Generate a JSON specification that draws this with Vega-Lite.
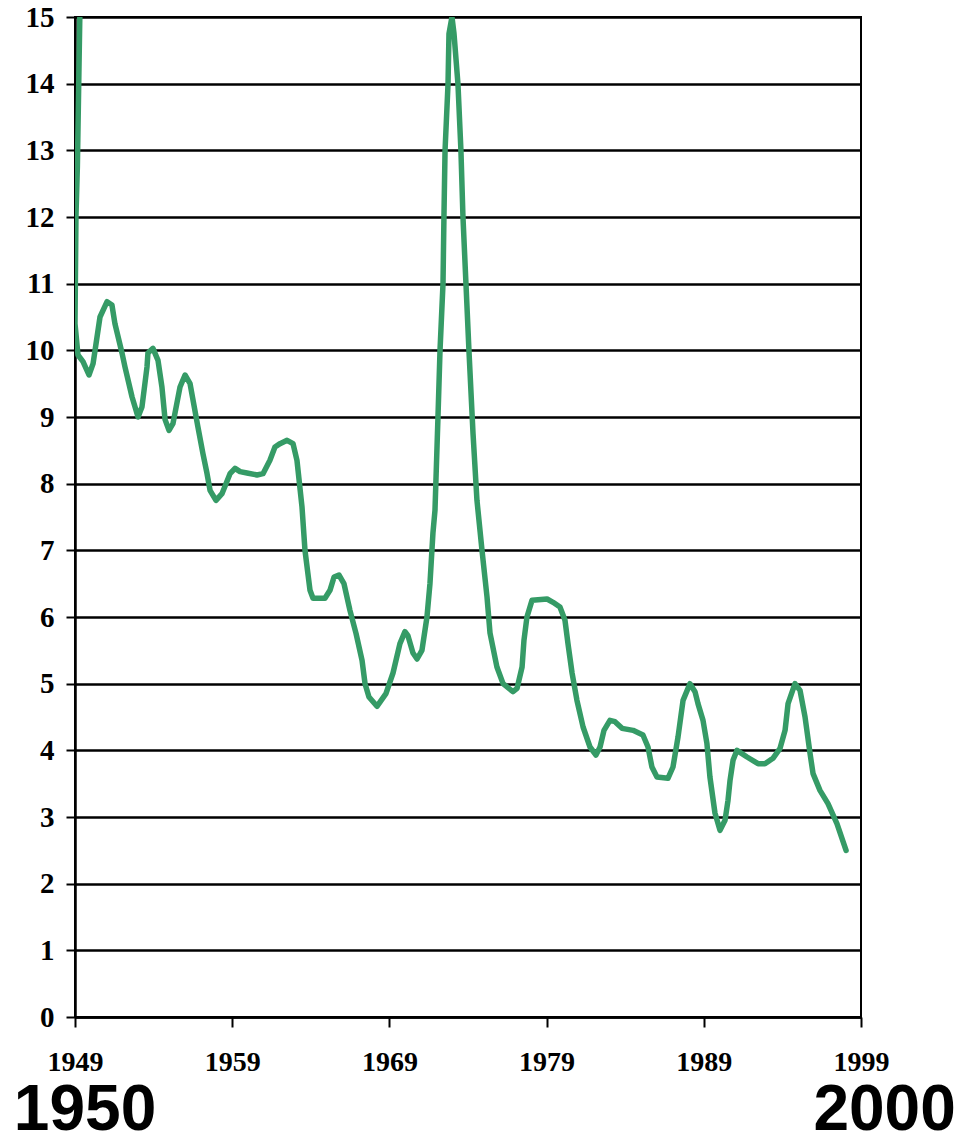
{
  "$schema": "https://vega.github.io/schema/vega-lite/v6.json",
  "width": 786,
  "height": 1000,
  "autosize": {"type": "none"},
  "padding": {"left": 75, "top": 17, "right": 98, "bottom": 120},
  "background": "white",
  "config": {
    "view": {"stroke": "black", "strokeWidth": 2},
    "axis": {"labelFont": "Liberation Serif", "labelFontWeight": "bold", "labelColor": "black", "domainColor": "black", "tickColor": "black", "gridColor": "black", "labelFlush": false, "labelOverlap": false}
  },
  "datasets": {
    "series": [
      {"i": 1, "year": 1949.32, "v": 15.2},
      {"i": 2, "year": 1949.15, "v": 12.75},
      {"i": 3, "year": 1949.06, "v": 12.0},
      {"i": 4, "year": 1949.0, "v": 10.4},
      {"i": 5, "year": 1949.19, "v": 9.93},
      {"i": 6, "year": 1949.51, "v": 9.83},
      {"i": 7, "year": 1949.89, "v": 9.63},
      {"i": 8, "year": 1950.15, "v": 9.8},
      {"i": 9, "year": 1950.59, "v": 10.5},
      {"i": 10, "year": 1951.04, "v": 10.73},
      {"i": 11, "year": 1951.35, "v": 10.68},
      {"i": 12, "year": 1951.54, "v": 10.4},
      {"i": 13, "year": 1951.99, "v": 9.96},
      {"i": 14, "year": 1952.18, "v": 9.75},
      {"i": 15, "year": 1952.63, "v": 9.3},
      {"i": 16, "year": 1953.01, "v": 9.0},
      {"i": 17, "year": 1953.26, "v": 9.15},
      {"i": 18, "year": 1953.58, "v": 9.75},
      {"i": 19, "year": 1953.64, "v": 9.96},
      {"i": 20, "year": 1953.96, "v": 10.03},
      {"i": 21, "year": 1954.28, "v": 9.85},
      {"i": 22, "year": 1954.53, "v": 9.45},
      {"i": 23, "year": 1954.73, "v": 8.96},
      {"i": 24, "year": 1954.98, "v": 8.8},
      {"i": 25, "year": 1955.23, "v": 8.9},
      {"i": 26, "year": 1955.68, "v": 9.45},
      {"i": 27, "year": 1956.0, "v": 9.63},
      {"i": 28, "year": 1956.32, "v": 9.5},
      {"i": 29, "year": 1956.51, "v": 9.25},
      {"i": 30, "year": 1956.82, "v": 8.85},
      {"i": 31, "year": 1957.14, "v": 8.45},
      {"i": 32, "year": 1957.4, "v": 8.15},
      {"i": 33, "year": 1957.59, "v": 7.9},
      {"i": 34, "year": 1957.97, "v": 7.75},
      {"i": 35, "year": 1958.35, "v": 7.85},
      {"i": 36, "year": 1958.86, "v": 8.15},
      {"i": 37, "year": 1959.18, "v": 8.23},
      {"i": 38, "year": 1959.5, "v": 8.18},
      {"i": 39, "year": 1959.94, "v": 8.16},
      {"i": 40, "year": 1960.58, "v": 8.13},
      {"i": 41, "year": 1960.96, "v": 8.15},
      {"i": 42, "year": 1961.4, "v": 8.35},
      {"i": 43, "year": 1961.72, "v": 8.55},
      {"i": 44, "year": 1962.04, "v": 8.6},
      {"i": 45, "year": 1962.49, "v": 8.65},
      {"i": 46, "year": 1962.87, "v": 8.6},
      {"i": 47, "year": 1963.12, "v": 8.35},
      {"i": 48, "year": 1963.44, "v": 7.65},
      {"i": 49, "year": 1963.63, "v": 7.0},
      {"i": 50, "year": 1963.95, "v": 6.4},
      {"i": 51, "year": 1964.14, "v": 6.28},
      {"i": 52, "year": 1964.9, "v": 6.28},
      {"i": 53, "year": 1965.22, "v": 6.4},
      {"i": 54, "year": 1965.48, "v": 6.6},
      {"i": 55, "year": 1965.79, "v": 6.63},
      {"i": 56, "year": 1966.11, "v": 6.5},
      {"i": 57, "year": 1966.49, "v": 6.1},
      {"i": 58, "year": 1966.88, "v": 5.75},
      {"i": 59, "year": 1967.26, "v": 5.35},
      {"i": 60, "year": 1967.45, "v": 5.0},
      {"i": 61, "year": 1967.7, "v": 4.8},
      {"i": 62, "year": 1968.21, "v": 4.66},
      {"i": 63, "year": 1968.78, "v": 4.85},
      {"i": 64, "year": 1969.23, "v": 5.16},
      {"i": 65, "year": 1969.67, "v": 5.6},
      {"i": 66, "year": 1969.99, "v": 5.78},
      {"i": 67, "year": 1970.18, "v": 5.72},
      {"i": 68, "year": 1970.5, "v": 5.46},
      {"i": 69, "year": 1970.76, "v": 5.37},
      {"i": 70, "year": 1971.07, "v": 5.5},
      {"i": 71, "year": 1971.39, "v": 6.0},
      {"i": 72, "year": 1971.58, "v": 6.5},
      {"i": 73, "year": 1971.77, "v": 7.26},
      {"i": 74, "year": 1971.9, "v": 7.6},
      {"i": 75, "year": 1972.09, "v": 9.0},
      {"i": 76, "year": 1972.22, "v": 10.0},
      {"i": 77, "year": 1972.41, "v": 11.0},
      {"i": 78, "year": 1972.47, "v": 12.0},
      {"i": 79, "year": 1972.54, "v": 13.0},
      {"i": 80, "year": 1972.73, "v": 14.0},
      {"i": 81, "year": 1972.79, "v": 14.75},
      {"i": 82, "year": 1972.98, "v": 15.0},
      {"i": 83, "year": 1973.11, "v": 14.75},
      {"i": 84, "year": 1973.36, "v": 14.0},
      {"i": 85, "year": 1973.55, "v": 13.0},
      {"i": 86, "year": 1973.68, "v": 12.0},
      {"i": 87, "year": 1973.87, "v": 11.0},
      {"i": 88, "year": 1974.06, "v": 10.0},
      {"i": 89, "year": 1974.32, "v": 8.75},
      {"i": 90, "year": 1974.57, "v": 7.75},
      {"i": 91, "year": 1974.89, "v": 7.0},
      {"i": 92, "year": 1975.21, "v": 6.3},
      {"i": 93, "year": 1975.4, "v": 5.76},
      {"i": 94, "year": 1975.84, "v": 5.25},
      {"i": 95, "year": 1976.23, "v": 5.0},
      {"i": 96, "year": 1976.86, "v": 4.88},
      {"i": 97, "year": 1977.12, "v": 4.93},
      {"i": 98, "year": 1977.44, "v": 5.25},
      {"i": 99, "year": 1977.56, "v": 5.65},
      {"i": 100, "year": 1977.75, "v": 6.0},
      {"i": 101, "year": 1978.07, "v": 6.25},
      {"i": 102, "year": 1979.03, "v": 6.27},
      {"i": 103, "year": 1979.41, "v": 6.22},
      {"i": 104, "year": 1979.85, "v": 6.15},
      {"i": 105, "year": 1980.17, "v": 5.95},
      {"i": 106, "year": 1980.36, "v": 5.6},
      {"i": 107, "year": 1980.62, "v": 5.16},
      {"i": 108, "year": 1980.93, "v": 4.75},
      {"i": 109, "year": 1981.32, "v": 4.35},
      {"i": 110, "year": 1981.76, "v": 4.05},
      {"i": 111, "year": 1982.14, "v": 3.93},
      {"i": 112, "year": 1982.4, "v": 4.05},
      {"i": 113, "year": 1982.65, "v": 4.3},
      {"i": 114, "year": 1983.03, "v": 4.45},
      {"i": 115, "year": 1983.35, "v": 4.43},
      {"i": 116, "year": 1983.8, "v": 4.33},
      {"i": 117, "year": 1984.5, "v": 4.3},
      {"i": 118, "year": 1985.13, "v": 4.23},
      {"i": 119, "year": 1985.45, "v": 4.05},
      {"i": 120, "year": 1985.7, "v": 3.75},
      {"i": 121, "year": 1986.02, "v": 3.6},
      {"i": 122, "year": 1986.72, "v": 3.58},
      {"i": 123, "year": 1987.04, "v": 3.75},
      {"i": 124, "year": 1987.36, "v": 4.2},
      {"i": 125, "year": 1987.68, "v": 4.75},
      {"i": 126, "year": 1988.12, "v": 5.0},
      {"i": 127, "year": 1988.44, "v": 4.88},
      {"i": 128, "year": 1988.63, "v": 4.7},
      {"i": 129, "year": 1988.95, "v": 4.45},
      {"i": 130, "year": 1989.2, "v": 4.1},
      {"i": 131, "year": 1989.39, "v": 3.6},
      {"i": 132, "year": 1989.71, "v": 3.06},
      {"i": 133, "year": 1990.03, "v": 2.8},
      {"i": 134, "year": 1990.35, "v": 2.95},
      {"i": 135, "year": 1990.54, "v": 3.25},
      {"i": 136, "year": 1990.67, "v": 3.55},
      {"i": 137, "year": 1990.86, "v": 3.85},
      {"i": 138, "year": 1991.11, "v": 4.0},
      {"i": 139, "year": 1991.75, "v": 3.9},
      {"i": 140, "year": 1992.45, "v": 3.8},
      {"i": 141, "year": 1992.89, "v": 3.8},
      {"i": 142, "year": 1993.4, "v": 3.88},
      {"i": 143, "year": 1993.85, "v": 4.03},
      {"i": 144, "year": 1994.17, "v": 4.3},
      {"i": 145, "year": 1994.36, "v": 4.7},
      {"i": 146, "year": 1994.8, "v": 5.0},
      {"i": 147, "year": 1995.12, "v": 4.9},
      {"i": 148, "year": 1995.44, "v": 4.5},
      {"i": 149, "year": 1995.76, "v": 3.95},
      {"i": 150, "year": 1995.95, "v": 3.65},
      {"i": 151, "year": 1996.39, "v": 3.4},
      {"i": 152, "year": 1996.9, "v": 3.2},
      {"i": 153, "year": 1997.47, "v": 2.9},
      {"i": 154, "year": 1998.05, "v": 2.5}
    ],
    "labels": [
      {"year": 1949.64, "v": -1.7, "text": "1950"},
      {"year": 2000.5, "v": -1.7, "text": "2000"}
    ]
  },
  "layer": [
    {
      "data": {"name": "series"},
      "mark": {"type": "line", "color": "#359b66", "strokeWidth": 5.5, "strokeJoin": "round", "strokeCap": "round", "clip": true},
      "encoding": {
        "x": {
          "field": "year", "type": "quantitative",
          "scale": {"domain": [1949, 1999], "nice": false, "zero": false},
          "axis": {"values": [1949, 1959, 1969, 1979, 1989, 1999], "format": "d", "title": null, "grid": false, "tickSize": 10, "tickWidth": 2, "domainWidth": 2.5, "labelFontSize": 28, "labelPadding": 21}
        },
        "y": {
          "field": "v", "type": "quantitative",
          "scale": {"domain": [0, 15], "nice": false},
          "axis": {"values": [0,1,2,3,4,5,6,7,8,9,10,11,12,13,14,15], "format": "d", "title": null, "grid": true, "gridWidth": 2.5, "tickSize": 9, "tickWidth": 2, "domainWidth": 2.5, "labelFontSize": 29, "labelPadding": 12}
        },
        "order": {"field": "i", "type": "quantitative"}
      }
    },
    {
      "data": {"name": "labels"},
      "mark": {"type": "text", "font": "Liberation Sans", "fontWeight": "bold", "fontSize": 64, "align": "center", "baseline": "alphabetic", "color": "black"},
      "encoding": {
        "x": {"field": "year", "type": "quantitative"},
        "y": {"field": "v", "type": "quantitative"},
        "text": {"field": "text"}
      }
    }
  ]
}
